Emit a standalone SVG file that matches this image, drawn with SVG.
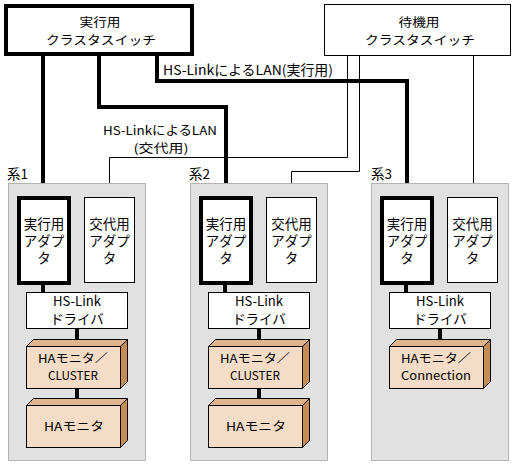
<svg xmlns="http://www.w3.org/2000/svg" width="514" height="464" viewBox="0 0 514 464">
<style>
text{font-family:"Noto Sans CJK JP","Liberation Sans",sans-serif;font-size:13.5px;fill:#000;text-anchor:middle}
.lbl{text-anchor:start}
.sm{font-size:12px}
.sys{fill:#e1e1e1;stroke:#b4b4b4;stroke-width:1}
.box{fill:#fff;stroke:#000;stroke-width:1}
.act{fill:#fff;stroke:#000;stroke-width:4}
.front{fill:#f5dcc6;stroke:#000;stroke-width:1}
.top{fill:#deb48c;stroke:#000;stroke-width:1;stroke-linejoin:round}
.side{fill:#c68c58;stroke:#000;stroke-width:1;stroke-linejoin:round}
.thick{fill:none;stroke:#000;stroke-width:4}
.thin{fill:none;stroke:#000;stroke-width:1}
</style>
<defs>
<g id="sysbase">
<rect class="sys" x="8.5" y="183.5" width="137" height="277"/>
</g>
<g id="inner">
<path class="thick" d="M43 283V294M77 328V346"/>
<rect class="act" x="19" y="198" width="50" height="85"/>
<text x="44" y="229">実行用</text><text x="44" y="246">アダプ</text><text x="44" y="263">タ</text>
<rect class="box" x="84.5" y="197.5" width="50" height="85"/>
<text x="109.5" y="229">交代用</text><text x="109.5" y="246">アダプ</text><text x="109.5" y="263">タ</text>
<rect class="box" x="26.5" y="292.5" width="101" height="36"/>
<text x="77" y="306" textLength="48" lengthAdjust="spacingAndGlyphs">HS-Link</text>
<text x="77" y="324">ドライバ</text>
<polygon class="top" points="26.5,346.5 33.5,339.5 127.5,339.5 120.5,346.5"/>
<polygon class="side" points="120.5,346.5 127.5,339.5 127.5,381.5 120.5,388.5"/>
<rect class="front" x="26.5" y="346.5" width="94" height="42"/>
</g>
</defs>

<g id="connectors">
<path class="thick" d="M43 54V198"/>
<path class="thick" d="M99 54V107H226V198"/>
<path class="thick" d="M157 54V81H407V198"/>
<path class="thin" d="M347.5 55V157.5H109.5V197.5"/>
<path class="thin" d="M359.5 55V171.5H291.5V197.5"/>
<path class="thin" d="M473.5 55V197.5"/>
</g>

<g id="label-lan-active"><text class="lbl" x="163" y="75" textLength="170" lengthAdjust="spacingAndGlyphs">HS-LinkによるLAN(実行用)</text></g>
<g id="label-lan-alt">
<text class="sm" x="160" y="135" textLength="114" lengthAdjust="spacingAndGlyphs">HS-LinkによるLAN</text>
<text class="sm" x="161" y="153" textLength="55" lengthAdjust="spacingAndGlyphs">(交代用)</text>
</g>

<g id="switch-active">
<rect class="act" x="6" y="6" width="186" height="48"/>
<text class="sm" x="100" y="27" textLength="41" lengthAdjust="spacingAndGlyphs">実行用</text>
<text class="sm" x="101" y="45" textLength="110" lengthAdjust="spacingAndGlyphs">クラスタスイッチ</text>
</g>
<g id="switch-standby">
<rect class="box" x="324.5" y="4.5" width="186" height="51"/>
<text class="sm" x="419" y="27" textLength="41" lengthAdjust="spacingAndGlyphs">待機用</text>
<text class="sm" x="420" y="45" textLength="110" lengthAdjust="spacingAndGlyphs">クラスタスイッチ</text>
</g>

<g id="sys1">
<text class="lbl" x="7" y="179">系1</text>
<use href="#sysbase"/>
<path class="thick" d="M77 388V400"/>
<use href="#inner"/>
<text class="sm" x="73" y="363" textLength="70" lengthAdjust="spacingAndGlyphs">HAモニタ／</text>
<text class="sm" x="73" y="380" textLength="50" lengthAdjust="spacingAndGlyphs">CLUSTER</text>
<polygon class="top" points="26.5,405.5 33.5,398.5 127.5,398.5 120.5,405.5"/>
<polygon class="side" points="120.5,405.5 127.5,398.5 127.5,440.5 120.5,447.5"/>
<rect class="front" x="26.5" y="405.5" width="94" height="42"/>
<text class="sm" x="74" y="431" textLength="60" lengthAdjust="spacingAndGlyphs">HAモニタ</text>
</g>

<g id="sys2" transform="translate(182,0)">
<text class="lbl" x="7" y="179">系2</text>
<use href="#sysbase"/>
<path class="thick" d="M77 388V400"/>
<use href="#inner"/>
<text class="sm" x="73" y="363" textLength="70" lengthAdjust="spacingAndGlyphs">HAモニタ／</text>
<text class="sm" x="73" y="380" textLength="50" lengthAdjust="spacingAndGlyphs">CLUSTER</text>
<polygon class="top" points="26.5,405.5 33.5,398.5 127.5,398.5 120.5,405.5"/>
<polygon class="side" points="120.5,405.5 127.5,398.5 127.5,440.5 120.5,447.5"/>
<rect class="front" x="26.5" y="405.5" width="94" height="42"/>
<text class="sm" x="74" y="431" textLength="60" lengthAdjust="spacingAndGlyphs">HAモニタ</text>
</g>

<g id="sys3" transform="translate(363,0)">
<text class="lbl" x="8" y="179">系3</text>
<use href="#sysbase"/>
<use href="#inner"/>
<text class="sm" x="73" y="363" textLength="70" lengthAdjust="spacingAndGlyphs">HAモニタ／</text>
<text class="sm" x="73" y="380" textLength="70" lengthAdjust="spacingAndGlyphs">Connection</text>
</g>
</svg>
